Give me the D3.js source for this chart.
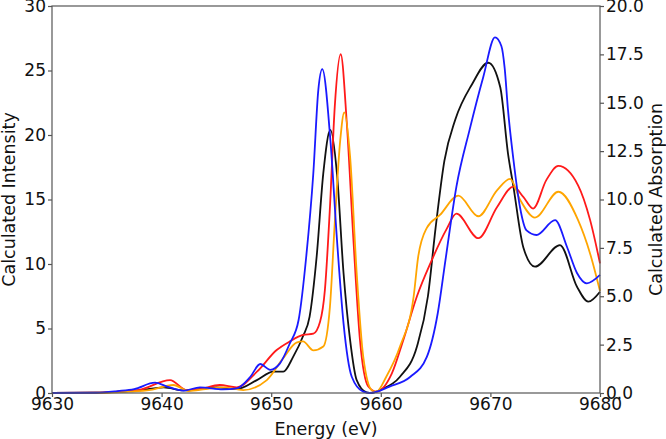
<!DOCTYPE html>
<html>
<head>
<meta charset="utf-8">
<script src="https://cdn.jsdelivr.net/npm/d3@7"></script>
<style>
body { margin: 0; background: #fff; }
svg text { font-family: "DejaVu Sans", sans-serif; fill: #111; }
.line { fill: none; stroke-width: 1.8; }
</style>
</head>
<body>
<svg width="666" height="439"></svg>
<script>
// [energy eV, calculated intensity]
let blue = [[9630,0],[9634,0.02],[9636,0.15],[9637.5,0.3],[9639.4,0.8],[9640.5,0.5],[9642,0.18],[9643.5,0.44],[9645.6,0.28],[9646.85,0.36],[9648.1,1.26],[9649,2.25],[9649.9,1.8],[9650.8,2.3],[9651.7,3.85],[9652.5,5.66],[9653.2,10.6],[9653.84,17.0],[9654.3,23.5],[9654.66,25.1],[9655.4,19.6],[9656.0,11.9],[9656.6,5.4],[9657.35,1.26],[9658.4,0.1],[9659.0,0],[9660.8,0.5],[9662.7,1.26],[9664.2,2.8],[9665.2,6.2],[9665.9,10.3],[9666.9,16.0],[9668.1,20.4],[9669.35,24.5],[9670.42,27.57],[9671.0,26.9],[9671.3,25.2],[9671.6,22.0],[9672.1,18.1],[9672.7,14.4],[9673.3,12.6],[9674.2,12.25],[9675.9,13.4],[9677.0,11.3],[9677.9,9.3],[9678.8,8.5],[9680,9.15]];

let black = [[9630,0],[9634,0.02],[9636,0.1],[9638,0.2],[9640.2,0.44],[9642,0.2],[9643.5,0.3],[9645,0.44],[9646.85,0.3],[9648.7,1.0],[9650.2,1.65],[9651.1,1.65],[9652.0,2.8],[9652.9,4.4],[9653.5,5.9],[9654.15,10.6],[9654.75,17.0],[9655.4,20.4],[9656.0,17.0],[9656.6,9.3],[9657.2,4.1],[9657.8,1.0],[9658.7,0.05],[9659.2,0],[9659.9,0.23],[9661.75,1.26],[9663.3,3.6],[9664.3,7.5],[9665.0,12.8],[9665.8,18.0],[9666.8,21.2],[9668.3,23.9],[9669.8,25.6],[9670.9,23.7],[9671.6,18.6],[9672.1,16.0],[9673.0,11.3],[9674.07,9.79],[9676.35,11.47],[9677.9,8.24],[9678.93,7.08],[9680,7.85]];

let red = [[9630,0],[9634,0.02],[9636,0.1],[9638,0.25],[9640.77,1.0],[9642.3,0.23],[9643.5,0.3],[9645.3,0.62],[9646.85,0.44],[9648.7,1.65],[9650.5,3.33],[9651.7,4.0],[9652.9,4.5],[9653.85,4.6],[9654.45,5.5],[9654.9,8.0],[9655.36,14.4],[9655.8,22.2],[9656.34,26.26],[9656.9,20.9],[9657.5,11.9],[9658.1,4.1],[9658.86,0.5],[9659.6,0.1],[9661.0,1.5],[9662.05,4.1],[9663.3,7.5],[9664.6,10.2],[9666.0,12.7],[9666.9,13.9],[9668.9,12.0],[9670.6,14.4],[9672.1,16.0],[9673.0,15.2],[9673.9,14.3],[9675.1,16.5],[9676.2,17.6],[9678.0,16.1],[9679.1,13.4],[9680,10.05]];

let orange = [[9630,0],[9635,0.02],[9637,0.1],[9639,0.25],[9641.07,0.62],[9642.5,0.15],[9644,0.3],[9645.6,0.44],[9647.45,0.23],[9649.6,1.0],[9651.1,2.7],[9652.3,3.9],[9652.9,4.0],[9653.85,3.3],[9654.75,3.6],[9655.36,6.7],[9655.8,13.2],[9656.3,19.6],[9656.67,21.76],[9657.2,18.3],[9657.8,9.3],[9658.4,2.8],[9659.2,0.2],[9659.6,0.1],[9660.5,1.26],[9661.75,3.6],[9663.0,7.5],[9663.4,10.5],[9664.2,12.8],[9665.4,13.8],[9667.07,15.3],[9668.9,13.7],[9670.6,15.7],[9671.8,16.6],[9672.7,15.0],[9674.07,13.6],[9676.2,15.6],[9678.0,13.4],[9679.1,10.8],[9680,7.9]];

let xTicks = [9630, 9640, 9650, 9660, 9670, 9680];
let leftTicks = [0, 5, 10, 15, 20, 25, 30];
let rightTicks = [0, 2.5, 5, 7.5, 10, 12.5, 15, 17.5, 20];

let svg = d3.select("svg"),
    margin = {left: 52, right: 66, top: 6, bottom: 46},
    width = +svg.attr("width") - margin.left - margin.right,
    height = +svg.attr("height") - margin.top - margin.bottom;

let x = d3.scaleLinear().domain([9630, 9680]).range([0, width]);
let y = d3.scaleLinear().domain([0, 30]).range([height, 0]);
let y2 = d3.scaleLinear().domain([0, 20]).range([height, 0]);

let g = svg.append("g").attr("transform", `translate(${margin.left},${margin.top})`);

let line = d3.line()
    .x(d => x(d[0]))
    .y(d => y(d[1]))
    .curve(d3.curveMonotoneX);

let series = [
    {data: black, color: "#111111"},
    {data: red, color: "#ff1a1a"},
    {data: orange, color: "#ffa500"},
    {data: blue, color: "#1a1aff"}
];

g.selectAll(".line")
    .data(series)
    .enter().append("path")
        .attr("class", "line")
        .attr("stroke", d => d.color)
        .attr("d", d => line(d.data));

// frame
g.append("rect")
    .attr("width", width)
    .attr("height", height)
    .attr("fill", "none")
    .attr("stroke", "#555")
    .attr("stroke-width", 1.2);

let styleAxis = sel => {
    sel.select(".domain").remove();
    sel.selectAll(".tick line").attr("stroke", "#555").attr("stroke-width", 1.2);
    sel.selectAll(".tick text").attr("font-size", 17).attr("fill", "#111");
};

g.append("g")
    .attr("transform", `translate(0,${height})`)
    .call(d3.axisBottom(x).tickValues(xTicks).tickFormat(d3.format("d")).tickSize(4).tickPadding(1))
    .call(styleAxis);

g.append("g")
    .call(d3.axisLeft(y).tickValues(leftTicks).tickSize(4).tickPadding(2))
    .call(styleAxis);

g.append("g")
    .attr("transform", `translate(${width},0)`)
    .call(d3.axisRight(y2).tickValues(rightTicks).tickFormat(d3.format(".1f")).tickSize(4).tickPadding(2))
    .call(styleAxis);

// axis titles
svg.append("text")
    .attr("x", margin.left + width / 2)
    .attr("y", 435)
    .attr("text-anchor", "middle")
    .attr("font-size", 17.5)
    .text("Energy (eV)");

svg.append("text")
    .attr("transform", `translate(15,${margin.top + height / 2}) rotate(-90)`)
    .attr("text-anchor", "middle")
    .attr("font-size", 17.5)
    .text("Calculated Intensity");

svg.append("text")
    .attr("transform", `translate(662,${margin.top + height / 2}) rotate(-90)`)
    .attr("text-anchor", "middle")
    .attr("font-size", 17.5)
    .text("Calculated Absorption");
</script>
</body>
</html>
